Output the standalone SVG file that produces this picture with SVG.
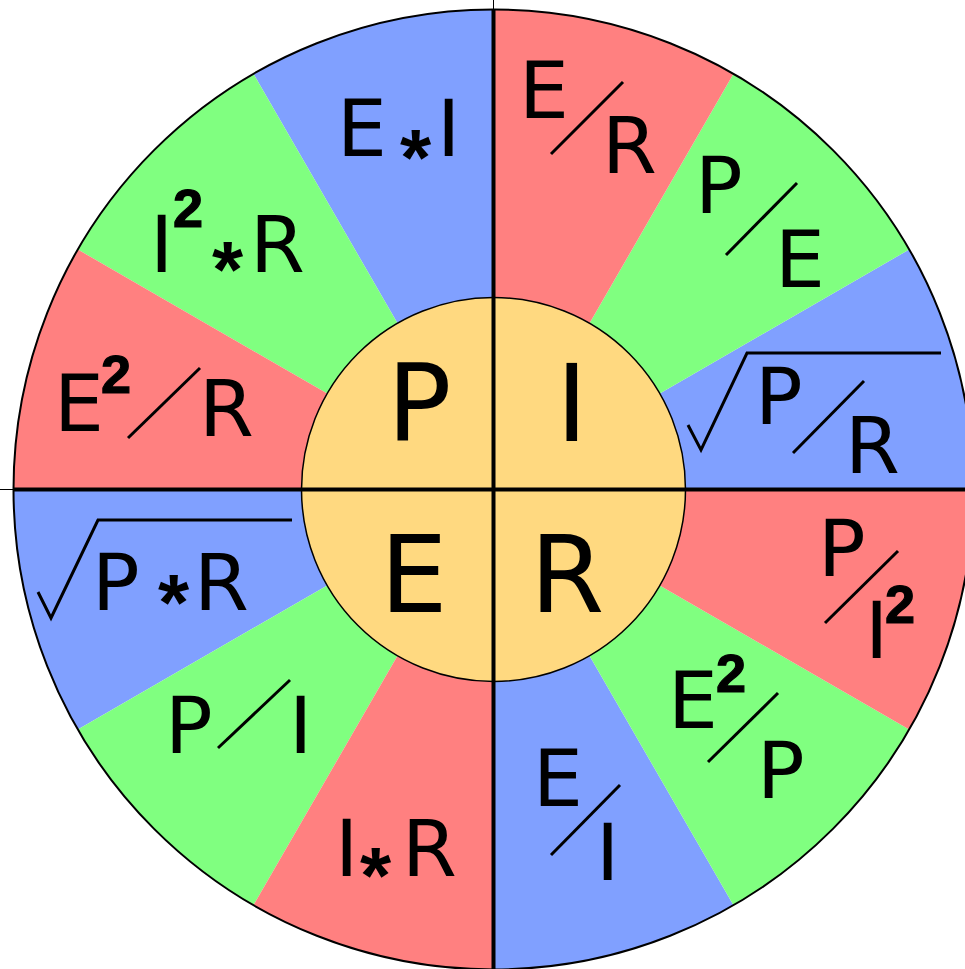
<svg xmlns="http://www.w3.org/2000/svg" width="965" height="969" viewBox="0 0 965 969">
<style>
.r{fill:#FF8080}.g{fill:#80FF80}.b{fill:#80A0FF}
.t{font-family:"DejaVu Sans",sans-serif;font-size:79px;fill:#000}
.c{font-family:"DejaVu Sans",sans-serif;font-size:107px;fill:#000}
.s{font-family:"Liberation Sans",Arial,sans-serif;font-size:54px;font-weight:bold;fill:#000;stroke:#000;stroke-width:1.2}
.a{font-family:"Liberation Sans",Arial,sans-serif;font-size:80px;font-weight:bold;fill:#000}
.l{stroke:#000;stroke-width:3;fill:none;stroke-linecap:butt}
</style>
<rect width="965" height="969" fill="#fff"/>
<g id="wedges">
<path class="b" d="M493.5 489.5 L493.5 9.5 A480 480 0 0 0 253.5 73.8 Z"/>
<path class="g" d="M493.5 489.5 L253.5 73.8 A480 480 0 0 0 77.8 249.5 Z"/>
<path class="r" d="M493.5 489.5 L77.8 249.5 A480 480 0 0 0 13.5 489.5 Z"/>
<path class="b" d="M493.5 489.5 L13.5 489.5 A480 480 0 0 0 77.8 729.5 Z"/>
<path class="g" d="M493.5 489.5 L77.8 729.5 A480 480 0 0 0 253.5 905.2 Z"/>
<path class="r" d="M493.5 489.5 L253.5 905.2 A480 480 0 0 0 493.5 969.5 Z"/>
<path class="b" d="M493.5 489.5 L493.5 969.5 A480 480 0 0 0 733.5 905.2 Z"/>
<path class="g" d="M493.5 489.5 L733.5 905.2 A480 480 0 0 0 909.2 729.5 Z"/>
<path class="r" d="M493.5 489.5 L909.2 729.5 A480 480 0 0 0 973.5 489.5 Z"/>
<path class="b" d="M493.5 489.5 L973.5 489.5 A480 480 0 0 0 909.2 249.5 Z"/>
<path class="g" d="M493.5 489.5 L909.2 249.5 A480 480 0 0 0 733.5 73.8 Z"/>
<path class="r" d="M493.5 489.5 L733.5 73.8 A480 480 0 0 0 493.5 9.5 Z"/>
</g>
<circle id="outer" cx="493.5" cy="489.5" r="480" fill="none" stroke="#000" stroke-width="2"/>
<circle id="inner" cx="493.5" cy="489.5" r="192" fill="#FFD980" stroke="#000" stroke-width="1.5"/>
<g id="axes" stroke="#000">
<line x1="493.5" y1="0" x2="493.5" y2="969" stroke-width="1"/>
<line x1="0" y1="489.5" x2="965" y2="489.5" stroke-width="1"/>
<line x1="493.5" y1="9.5" x2="493.5" y2="969.5" stroke-width="4"/>
<line x1="13.5" y1="489.5" x2="973.5" y2="489.5" stroke-width="4"/>
</g>
<g id="center">
<text class="c" x="387" y="440">P</text>
<text class="c" x="556" y="441">I</text>
<text class="c" x="380" y="612">E</text>
<text class="c" x="530" y="612">R</text>
</g>
<g id="n-EI">
<text class="t" x="337" y="156">E</text><text class="a" x="400" y="185">*</text><text class="t" x="437" y="156">I</text>
</g>
<g id="n-I2R">
<text class="t" x="150" y="272">I</text><text class="s" x="173" y="227">2</text><text class="a" x="212" y="297">*</text><text class="t" x="250" y="272">R</text>
</g>
<g id="n-E2R">
<text class="t" x="54" y="431">E</text><text class="s" x="101" y="393">2</text><line class="l" x1="128" y1="438" x2="200" y2="368"/><text class="t" x="199" y="436">R</text>
</g>
<g id="n-ER">
<text class="t" x="519" y="118">E</text><line class="l" x1="551" y1="154" x2="623" y2="82"/><text class="t" x="602" y="173">R</text>
</g>
<g id="n-PE">
<text class="t" x="695" y="213">P</text><line class="l" x1="726" y1="255" x2="797" y2="183"/><text class="t" x="775" y="287">E</text>
</g>
<g id="n-sqrtPR">
<polyline class="l" points="688,425 701,450 747,353 941,353"/><text class="t" x="755" y="424">P</text><line class="l" x1="793" y1="453" x2="864" y2="381"/><text class="t" x="845" y="473">R</text>
</g>
<g id="n-PI2">
<text class="t" x="818" y="576">P</text><line class="l" x1="825" y1="623" x2="898" y2="551"/><text class="t" x="865" y="658">I</text><text class="s" x="885" y="623">2</text>
</g>
<g id="n-E2P">
<text class="t" x="668" y="728">E</text><text class="s" x="716" y="692">2</text><line class="l" x1="708" y1="762" x2="778" y2="693"/><text class="t" x="757" y="798">P</text>
</g>
<g id="n-EI2">
<text class="t" x="533" y="806">E</text><line class="l" x1="551" y1="855" x2="620" y2="785"/><text class="t" x="596" y="880">I</text>
</g>
<g id="n-IR">
<text class="t" x="335" y="876">I</text><text class="a" x="360" y="903">*</text><text class="t" x="402" y="876">R</text>
</g>
<g id="n-PI">
<text class="t" x="165" y="753">P</text><line class="l" x1="218" y1="748" x2="290" y2="680"/><text class="t" x="289" y="753">I</text>
</g>
<g id="n-sqrtPxR">
<polyline class="l" points="38,592 51,618 98,520 292,520"/><text class="t" x="92" y="610">P</text><text class="a" x="158" y="630">*</text><text class="t" x="194" y="610">R</text>
</g>
</svg>
